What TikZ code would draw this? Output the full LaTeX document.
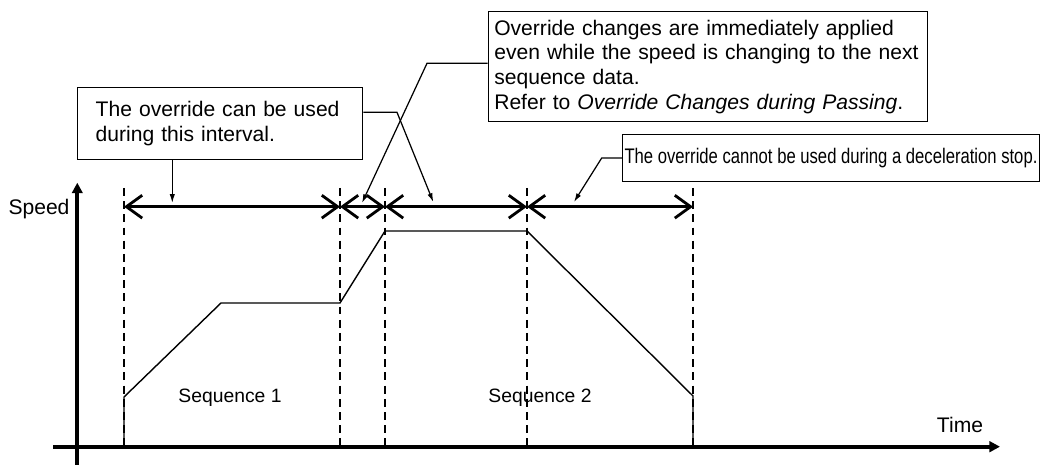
\documentclass[tikz,border=0pt]{standalone}
\usepackage{fontspec}
\setmainfont{Liberation Sans}
\newfontfamily\narrowfont[FakeStretch=0.79]{Liberation Sans}
\usetikzlibrary{arrows.meta}

\begin{document}
\begin{tikzpicture}[
  x=0.02cm, y=-0.02cm,
  txt/.style={font=\fontsize{12}{14}\selectfont},
  note/.style={draw, line width=0.8pt, txt, align=left, inner ysep=2pt},
  callout/.style={-{Latex[length=5pt,width=3pt]}, line width=0.7pt},
  span/.style={{Straight Barb[length=9pt,width=13pt]}-{Straight Barb[length=9pt,width=13pt]},
               line width=1.6pt},
  guide/.style={dashed, dash pattern=on 4.5pt off 3pt, line width=0.8pt},
  axis/.style={-{Triangle[length=6pt,width=6pt]}, line width=2.2pt},
  profile/.style={line width=0.8pt}
]
  \useasboundingbox (0,0) rectangle (1056,465);

  % Axes
  \draw[axis] (77.3,465) -- (77.3,182.7);
  \draw[axis] (53.3,446.7) -- (1000,446.7);
  \node[txt] (speed) at (39,209) {Speed};
  \node[txt] (time) at (960,425) {Time};

  % Interval marks
  \foreach \x [count=\i] in {124,340,385,527,693} {
    \coordinate (m\i) at (\x,206.7);
    \draw[guide] (\x,188) -- (\x,446.7);
  }
  \draw[span] (m1) -- (m2);
  \draw[span] (m2) -- (m3);
  \draw[span] (m3) -- (m4);
  \draw[span] (m4) -- (m5);

  % Speed profile
  \draw[profile] (124,446.7) -- (124,397) -- (221,303) -- (340,303)
       -- (385,231) -- (527,231) -- (693,396) -- (693,446.7);
  \node[font=\fontsize{11}{13}\selectfont] (seq1) at (230,398) {Sequence 1};
  \node[font=\fontsize{11}{13}\selectfont] (seq2) at (540,398) {Sequence 2};

  % Notes
  \node[note, minimum width=5.7cm, minimum height=1.44cm, text width=4.98cm,
        inner xsep=0.36cm] (intv) at (220.2,123.3)
       {The override can be used\\during this interval.};
  \node[note, minimum width=8.79cm, minimum height=2.2cm, text width=8.55cm,
        inner xsep=0.12cm] (passing) at (708,66.7)
       {Override changes are immediately applied\\
        even while the speed is changing to the next\\
        sequence data.\\
        Refer to \textit{Override Changes during Passing}.};
  \node[draw, line width=0.8pt, font=\narrowfont\fontsize{12}{14}\selectfont,
        minimum width=8.33cm, minimum height=0.95cm, inner xsep=1pt]
       (decel) at (831,158)
       {The override cannot be used during a deceleration stop.};

  % Callouts
  \coordinate (t1) at (172.3,203);
  \coordinate (t2) at (362,203);
  \coordinate (t3) at (433.3,202);
  \coordinate (t4) at (574,202);
  \coordinate (k1) at (397,112.3);
  \coordinate (k2) at (427,63.3);
  \coordinate (k3) at (601.7,158);
  \draw[callout] (intv.south -| t1) -- (t1);
  \draw[callout] (intv.east |- k1) -- (k1) -- (t3);
  \draw[callout] (passing.west |- k2) -- (k2) -- (t2);
  \draw[callout] (decel.west) -- (k3) -- (t4);
\end{tikzpicture}
\end{document}
